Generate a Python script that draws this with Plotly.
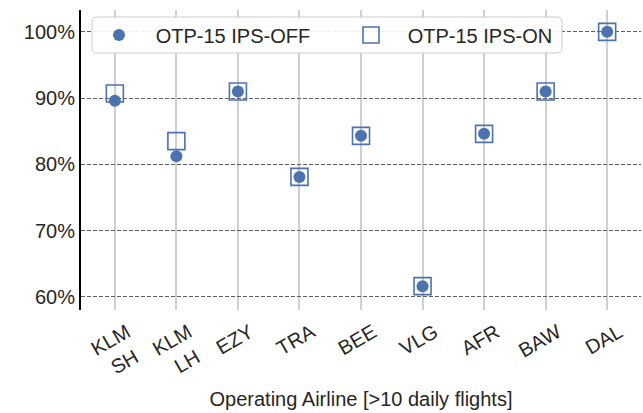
import plotly.graph_objects as go

airlines = ["KLM<br>SH\u00a0", "KLM<br>LH\u00a0", "EZY", "TRA", "BEE", "VLG", "AFR", "BAW", "DAL"]
otp_off = [89.6, 81.2, 91.0, 78.1, 84.3, 61.6, 84.6, 91.0, 100.0]
otp_on = [90.7, 83.5, 91.0, 78.1, 84.3, 61.6, 84.6, 91.0, 100.0]
y_ticks = [60, 70, 80, 90, 100]
y_tick_labels = ["60%", "70%", "80%", "90%", "100%"]

blue = "#4C72B0"
xs = list(range(len(airlines)))
pad = "\u00a0\u00a0\u00a0"

fig = go.Figure()
fig.add_trace(go.Scatter(
    x=xs, y=otp_off, mode="markers", name=pad + "OTP-15 IPS-OFF", legend="legend",
    marker=dict(symbol="circle", size=12, color=blue, line=dict(width=0)),
))
fig.add_trace(go.Scatter(
    x=xs, y=otp_on, mode="markers", name=pad + "OTP-15 IPS-ON", legend="legend2",
    marker=dict(symbol="square-open", size=17, color=blue, line=dict(width=1.6, color=blue)),
))

# legend frame (rounded rectangle) in paper coordinates
W, H = 560.0, 300.0
x0, x1 = (92 - 81) / W, (562 - 81) / W
y0, y1 = (310 - 53) / H, (310 - 17) / H
rx, ry = 5 / W, 5 / H
frame = (f"M {x0+rx},{y1} L {x1-rx},{y1} Q {x1},{y1} {x1},{y1-ry} "
         f"L {x1},{y0+ry} Q {x1},{y0} {x1-rx},{y0} L {x0+rx},{y0} "
         f"Q {x0},{y0} {x0},{y0+ry} L {x0},{y1-ry} Q {x0},{y1} {x0+rx},{y1} Z")
fig.add_shape(type="path", path=frame, xref="paper", yref="paper",
              fillcolor="rgba(255,255,255,0.9)", line=dict(color="#cccccc", width=1),
              layer="above")

font = "Liberation Sans, Arial, sans-serif"
leg_common = dict(orientation="h", xanchor="left", yanchor="middle", y=(310 - 35) / H,
                  bgcolor="rgba(0,0,0,0)", borderwidth=0,
                  font=dict(size=20, color="#262626"), itemsizing="trace")
fig.update_layout(
    width=643, height=413,
    margin=dict(l=81, r=2, t=10, b=103),
    paper_bgcolor="white", plot_bgcolor="white",
    font=dict(family=font, size=20, color="#262626"),
    showlegend=True,
    legend=dict(x=(99 - 81) / W, **leg_common),
    legend2=dict(x=(351 - 81) / W, **leg_common),
    xaxis=dict(
        tickmode="array", tickvals=xs, ticktext=airlines, tickangle=-30,
        range=[-0.55, 8.55], showgrid=True, gridcolor="#d0d0d0", gridwidth=1.5,
        zeroline=False, showline=False, ticks="", tickfont=dict(size=20),
        ticklabelshift=12, ticklabelstandoff=6,
        automargin=False,
        title=dict(text="Operating Airline [>10 daily flights]", font=dict(size=20), standoff=10),
    ),
    yaxis=dict(
        tickmode="array", tickvals=y_ticks, ticktext=y_tick_labels,
        range=[58.0, 103.3], showgrid=True, gridcolor="#606060", gridwidth=1,
        griddash="4px,2px", zeroline=False, showline=True, linecolor="black", linewidth=2,
        ticks="", tickfont=dict(size=20), automargin=False,
    ),
)

fig.write_html("out.html", post_script="document.body.style.margin='0';",
               config={"displayModeBar": False})
